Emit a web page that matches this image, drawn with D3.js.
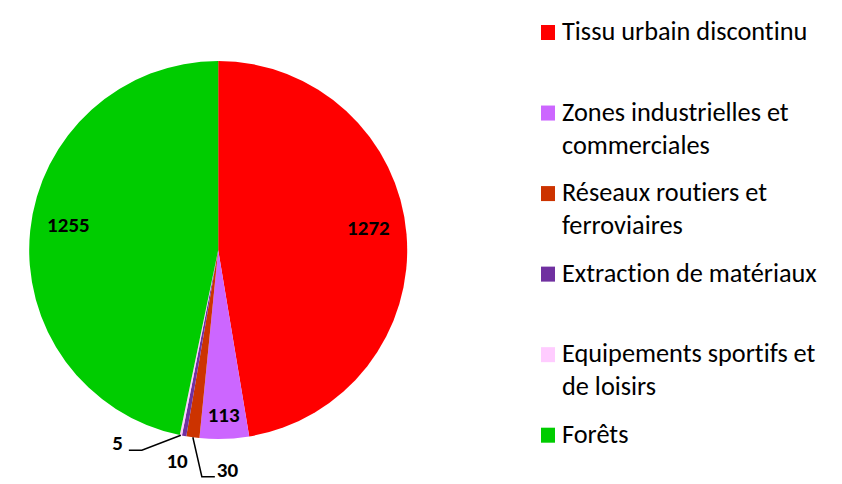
<!DOCTYPE html>
<html lang="fr">
<head>
<meta charset="UTF-8">
<title>Occupation du sol</title>
<script src="https://d3js.org/d3.v7.min.js"></script>
<style>
  body { margin: 0; background: #fff; }
  text { font-family: Carlito, Lato, "Open Sans", sans-serif; fill: #000; font-variant-ligatures: none; }
  .legend text { font-size: 26.3px; }
  .label { font-size: 21px; font-weight: bold; }
</style>
</head>
<body>
<svg id="chart" width="842" height="484"></svg>
<script>
const categories = [
    "Tissu urbain discontinu",
    "Zones industrielles et commerciales",
    "Réseaux routiers et ferroviaires",
    "Extraction de matériaux",
    "Equipements sportifs et de loisirs",
    "Forêts"
];
const legendLines = [
    ["Tissu urbain discontinu"],
    ["Zones industrielles et", "commerciales"],
    ["Réseaux routiers et", "ferroviaires"],
    ["Extraction de matériaux"],
    ["Equipements sportifs et", "de loisirs"],
    ["Forêts"]
];
const values = [1272, 113, 30, 10, 5, 1255];
const colors = ["#ff0000", "#cc66ff", "#cc3300", "#7030a0", "#ffccff", "#00cc00"];

const data = categories.map((c, i) => ({ name: c, value: values[i], color: colors[i], lines: legendLines[i] }));

const svg = d3.select("#chart");
const cx = 218.2, cy = 250, radius = 189;

const g = svg.append("g").attr("transform", `translate(${cx},${cy})`);

const pie = d3.pie().sort(null).value(d => d.value);
const arc = d3.arc().innerRadius(0).outerRadius(radius);
const arcs = pie(data);

g.selectAll("path.slice")
    .data(arcs)
    .enter().append("path")
    .attr("class", "slice")
    .attr("d", arc)
    .attr("fill", d => d.data.color);

// labels inside the end of the big slices
const pad = 16.5, capHalf = 7, lift = 10;
arcs.filter(d => d.data.value >= 100).forEach(d => {
    const t = g.append("text")
        .attr("class", "label")
        .attr("text-anchor", "middle")
        .text(d.data.value);
    const w = t.node().getComputedTextLength();
    const a = (d.startAngle + d.endAngle) / 2;
    const proj = Math.abs(Math.sin(a)) * w / 2 + Math.abs(Math.cos(a)) * capHalf;
    const r = radius - pad - proj;
    t.attr("x", r * Math.sin(a))
     .attr("y", -r * Math.cos(a) + capHalf - lift * Math.abs(Math.sin(a)));
});

// callouts for the thin slices
const callouts = {
    2: { elbow: [9, 39.4], run: 13, gap: 2, anchor: "start" },
    3: { text: [-7, 32.4], anchor: "middle" },
    4: { elbow: [-39, 15], run: -13, gap: -6, anchor: "end" }
};
arcs.forEach((d, i) => {
    const c = callouts[i];
    if (!c) return;
    const a = (d.startAngle + d.endAngle) / 2;
    const px = radius * Math.sin(a), py = -radius * Math.cos(a);
    if (c.elbow) {
        const ex = px + c.elbow[0], ey = py + c.elbow[1];
        const endX = ex + c.run;
        g.append("path")
            .attr("d", d3.line()([[px, py], [ex, ey], [endX, ey]]))
            .attr("fill", "none")
            .attr("stroke", "#000")
            .attr("stroke-width", 1.5);
        g.append("text")
            .attr("class", "label")
            .attr("text-anchor", c.anchor)
            .attr("x", endX + c.gap)
            .attr("y", ey)
            .text(d.data.value);
    } else {
        g.append("text")
            .attr("class", "label")
            .attr("text-anchor", c.anchor)
            .attr("x", px + c.text[0])
            .attr("y", py + c.text[1])
            .text(d.data.value);
    }
});

// legend
const ly = d3.scalePoint()
    .domain(categories)
    .range([40, 442.7]);

const legend = svg.append("g").attr("class", "legend");
const item = legend.selectAll("g")
    .data(data)
    .enter().append("g")
    .attr("transform", d => `translate(540,${ly(d.name)})`);

item.append("rect")
    .attr("x", 1)
    .attr("y", -15)
    .attr("width", 14)
    .attr("height", 15)
    .attr("fill", d => d.color);

item.append("text")
    .attr("x", 22)
    .selectAll("tspan")
    .data(d => d.lines)
    .enter().append("tspan")
    .attr("x", 22)
    .attr("y", (d, i) => i * 33)
    .text(d => d);
</script>
</body>
</html>
